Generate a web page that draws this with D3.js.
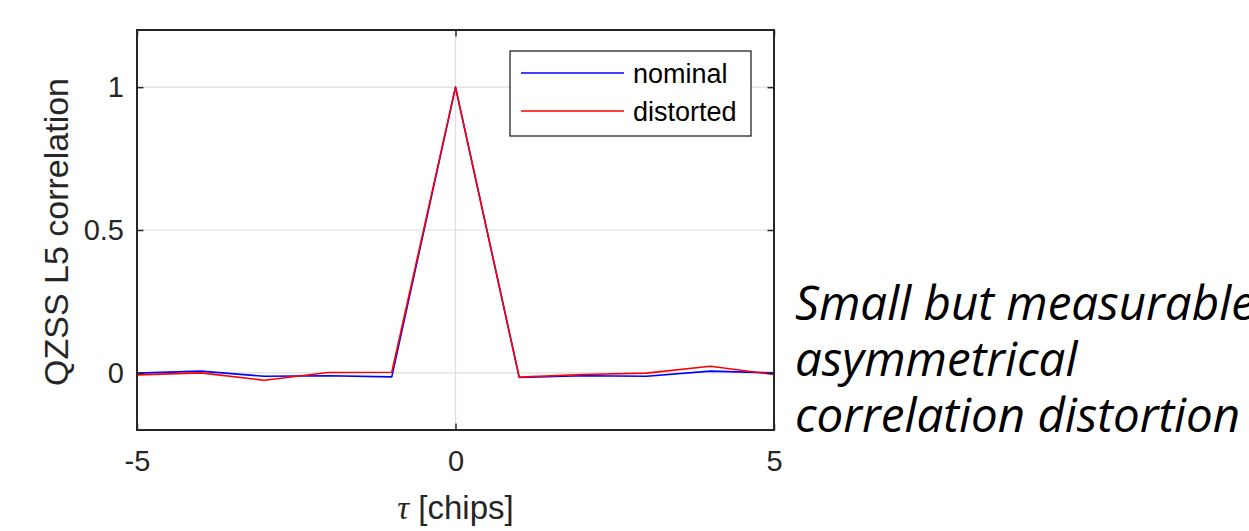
<!DOCTYPE html>
<html>
<head>
<meta charset="utf-8">
<script src="https://cdn.jsdelivr.net/npm/d3@7"></script>
<style>
  body { margin: 0; background: #fff; }
  svg { display: block; }
</style>
</head>
<body>
<div id="chart"></div>
<script>
// Our canvas
const width = 1249,
  height = 531

// the data
const tau = [-5, -4, -3, -2, -1, 0, 1, 2, 3, 4, 5]
const nominal = [-0.001, 0.006, -0.012, -0.010, -0.014, 1.0, -0.016, -0.010, -0.012, 0.006, 0.000]
const distorted = [-0.007, 0.000, -0.026, 0.001, 0.002, 1.0, -0.015, -0.006, -0.001, 0.023, -0.006]
const xTicks = [-5, 0, 5]
const yTicks = [0, 0.5, 1]
const seriesNames = ['nominal', 'distorted']
const seriesColors = ['#0000ff', '#ff0000']
const noteLines = ['Small but measurable', 'asymmetrical', 'correlation distortion']

// plot box
const boxLeft = 137, boxRight = 774, boxTop = 30, boxBottom = 430
const axisColor = '#262626'
const tickFont = '29px "Liberation Sans", Arial, sans-serif'

let svg = d3.select('#chart')
  .append('svg')
  .attr('width', width)
  .attr('height', height)

const x = d3.scaleLinear().domain([-5, 5]).range([boxLeft, boxRight])
const y = d3.scaleLinear().domain([-0.2, 1.2]).range([boxBottom, boxTop])

// grid
svg.append('g')
  .selectAll('line')
  .data(yTicks)
  .enter()
  .append('line')
  .attr('x1', boxLeft).attr('x2', boxRight)
  .attr('y1', d => y(d)).attr('y2', d => y(d))
  .attr('stroke', '#dedede')
  .attr('stroke-width', 1.2)

svg.append('g')
  .selectAll('line')
  .data(xTicks)
  .enter()
  .append('line')
  .attr('x1', d => x(d)).attr('x2', d => x(d))
  .attr('y1', boxTop).attr('y2', boxBottom)
  .attr('stroke', '#dedede')
  .attr('stroke-width', 1.2)

// series lines
const line = d3.line()
  .x((d, i) => x(tau[i]))
  .y(d => y(d))

;[nominal, distorted].forEach((vals, k) => {
  svg.append('path')
    .datum(vals)
    .attr('d', line)
    .attr('fill', 'none')
    .attr('stroke', seriesColors[k])
    .attr('stroke-width', 1.6)
    .attr('stroke-linejoin', 'round')
})

// axes, ticks pointing inwards
const tickLen = 6.5

svg.append('g')
  .attr('transform', `translate(0, ${boxBottom})`)
  .call(d3.axisBottom(x).tickValues(xTicks).tickSizeInner(-tickLen).tickSizeOuter(0).tickPadding(20).tickFormat(d3.format('d')))
  .call(g => g.select('.domain').remove())
  .call(g => g.selectAll('line').attr('stroke', axisColor).attr('stroke-width', 1.5))
  .call(g => g.selectAll('text').style('font', tickFont).attr('fill', axisColor).text(d => d < 0 ? '-' + Math.abs(d) : d))

svg.append('g')
  .attr('transform', `translate(0, ${boxTop})`)
  .call(d3.axisTop(x).tickValues(xTicks).tickSizeInner(-tickLen).tickSizeOuter(0).tickFormat(''))
  .call(g => g.select('.domain').remove())
  .call(g => g.selectAll('line').attr('stroke', axisColor).attr('stroke-width', 1.5))

svg.append('g')
  .attr('transform', `translate(${boxLeft}, 0)`)
  .call(d3.axisLeft(y).tickValues(yTicks).tickSizeInner(-tickLen).tickSizeOuter(0).tickPadding(13).tickFormat(d => d))
  .call(g => g.select('.domain').remove())
  .call(g => g.selectAll('line').attr('stroke', axisColor).attr('stroke-width', 1.5))
  .call(g => g.selectAll('text').style('font', tickFont).attr('fill', axisColor))

svg.append('g')
  .attr('transform', `translate(${boxRight}, 0)`)
  .call(d3.axisRight(y).tickValues(yTicks).tickSizeInner(-tickLen).tickSizeOuter(0).tickFormat(''))
  .call(g => g.select('.domain').remove())
  .call(g => g.selectAll('line').attr('stroke', axisColor).attr('stroke-width', 1.5))

// box
svg.append('rect')
  .attr('x', boxLeft).attr('y', boxTop)
  .attr('width', boxRight - boxLeft).attr('height', boxBottom - boxTop)
  .attr('fill', 'none')
  .attr('stroke', axisColor)
  .attr('stroke-width', 2)

// axis labels
const xl = svg.append('text')
  .attr('x', x(0))
  .attr('y', 519)
  .attr('text-anchor', 'middle')
  .style('font', '33px "Liberation Sans", Arial, sans-serif')
  .attr('fill', axisColor)
xl.append('tspan').attr('font-style', 'italic').style('font-family', '"Liberation Serif", serif').text('τ')
xl.append('tspan').text(' [chips]')

svg.append('text')
  .attr('transform', `translate(68, ${(boxTop + boxBottom) / 2 + 2}) rotate(-90)`)
  .attr('text-anchor', 'middle')
  .style('font', '34px "Liberation Sans", Arial, sans-serif')
  .attr('fill', axisColor)
  .text('QZSS L5 correlation')

// legend
const legend = svg.append('g')
legend.append('rect')
  .attr('x', 510).attr('y', 51)
  .attr('width', 241).attr('height', 85)
  .attr('fill', '#fff')
  .attr('stroke', '#262626')
  .attr('stroke-width', 1.3)

seriesNames.forEach((name, i) => {
  const ly = 73 + i * 38
  legend.append('line')
    .attr('x1', 521).attr('x2', 624)
    .attr('y1', ly).attr('y2', ly)
    .attr('stroke', seriesColors[i])
    .attr('stroke-width', 1.6)
  legend.append('text')
    .attr('x', 633).attr('y', ly + 10)
    .style('font', '27px "Liberation Sans", Arial, sans-serif')
    .attr('fill', '#000')
    .text(name)
})

// side note
svg.append('g')
  .selectAll('text')
  .data(noteLines)
  .enter()
  .append('text')
  .attr('x', 795)
  .attr('y', (d, i) => 320 + i * 56)
  .style('font', 'italic 47.5px "Open Sans", sans-serif')
  .attr('fill', '#000')
  .text(d => d)
</script>
</body>
</html>
